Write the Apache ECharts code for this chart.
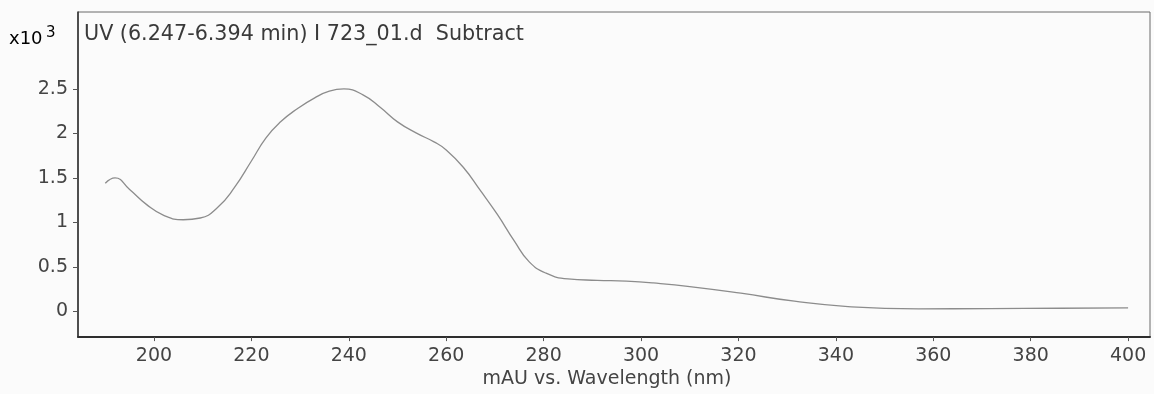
<!DOCTYPE html>
<html>
<head>
<meta charset="utf-8">
<title>UV spectrum</title>
<script src="https://cdn.jsdelivr.net/npm/echarts@6/dist/echarts.min.js"></script>
<style>
  html, body { margin: 0; padding: 0; background: #fbfbfb; }
  #chart { width: 1154px; height: 394px; }
</style>
</head>
<body>
<div id="chart"></div>
<script>
// UV absorbance spectrum, mAU x 10^3 against wavelength in nm
const wavelengths = [190, 192, 195, 198.5, 202, 206, 209.5, 213, 216.5, 220, 223, 226, 229.5, 233, 236, 239, 243, 246.5, 250, 254, 257.5, 260, 263.5, 267, 270.5, 274, 277, 280.5, 285, 291, 297, 302.5, 310, 320.5, 331.5, 342.5, 357, 371.5, 386, 400];
const absorbance = [1.44, 1.50, 1.37, 1.20, 1.08, 1.03, 1.05, 1.165, 1.39, 1.69, 1.95, 2.13, 2.28, 2.40, 2.475, 2.50, 2.43, 2.29, 2.13, 2.00, 1.905, 1.815, 1.62, 1.36, 1.09, 0.79, 0.56, 0.43, 0.365, 0.35, 0.34, 0.32, 0.28, 0.205, 0.115, 0.055, 0.03, 0.032, 0.036, 0.04];
const xTicks = [200, 220, 240, 260, 280, 300, 320, 340, 360, 380, 400];
const yTicks = [0, 0.5, 1, 1.5, 2, 2.5];

const titleText = 'UV (6.247-6.394 min) I 723_01.d  Subtract';
const xName = 'mAU vs. Wavelength (nm)';

const FONT = 'DejaVu Sans';
const chart = echarts.init(document.getElementById('chart'), null, { renderer: 'canvas' });

chart.setOption({
  backgroundColor: '#fbfbfb',
  animation: false,
  title: {
    text: titleText,
    left: 84,
    top: 24,
    padding: 0,
    textStyle: { fontFamily: FONT, fontSize: 20.7, fontWeight: 'normal', color: '#3a3a3a' }
  },
  graphic: [{
    type: 'text',
    left: 9,
    top: 26,
    style: {
      text: '{b|x10} {s|3}',
      rich: {
        b: { fontFamily: FONT, fontSize: 18, color: '#3a3a3a', verticalAlign: 'bottom', lineHeight: 22 },
        s: { fontFamily: FONT, fontSize: 15, color: '#3a3a3a', verticalAlign: 'top', lineHeight: 18 }
      }
    }
  }],
  grid: {
    left: 78,
    right: 4,
    top: 12,
    bottom: 53,
    show: true,
    borderColor: '#6a6a6a',
    borderWidth: 1,
    backgroundColor: 'transparent'
  },
  xAxis: {
    type: 'value',
    min: 184.4,
    max: 404.5,
    name: xName,
    nameLocation: 'middle',
    nameGap: 29,
    nameTextStyle: { fontFamily: FONT, fontSize: 19, color: '#444', padding: [0, 14, 0, 0] },
    axisLine: { show: true, onZero: false, lineStyle: { color: '#2e2e2e', width: 2 } },
    axisTick: { show: true, customValues: xTicks, length: 4, inside: false, lineStyle: { color: '#555', width: 1 } },
    axisLabel: { customValues: xTicks, margin: 9, fontFamily: FONT, fontSize: 19, color: '#444' },
    splitLine: { show: false }
  },
  yAxis: {
    type: 'value',
    min: -0.288,
    max: 3.364,
    axisLine: { show: true, onZero: false, lineStyle: { color: '#2e2e2e', width: 1.5 } },
    axisTick: { show: true, customValues: yTicks, length: 5, inside: false, lineStyle: { color: '#555', width: 1 } },
    axisLabel: { customValues: yTicks, margin: 10, fontFamily: FONT, fontSize: 19, color: '#444' },
    splitLine: { show: false }
  },
  series: [{
    type: 'line',
    data: wavelengths.map((w, i) => [w, absorbance[i]]),
    smooth: 0.5,
    showSymbol: false,
    lineStyle: { color: '#8c8c8c', width: 1.3 }
  }]
});
</script>
</body>
</html>
